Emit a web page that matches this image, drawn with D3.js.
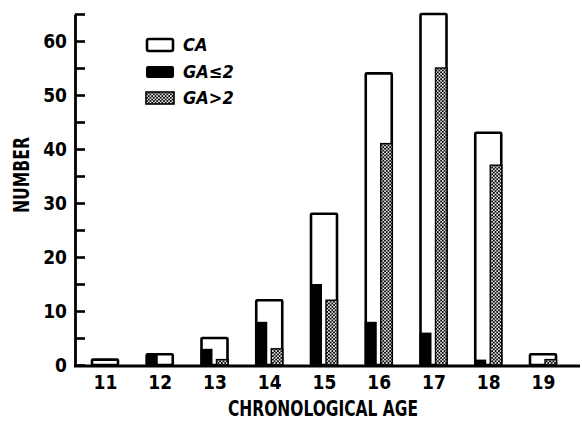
<!DOCTYPE html>
<html><head><meta charset="utf-8">
<script src="https://cdn.jsdelivr.net/npm/d3@7"></script>
<style>
body{margin:0;background:#fff;}
text{font-family:"Liberation Sans Narrow","DejaVu Sans Condensed",sans-serif;font-weight:bold;fill:#000;}
</style></head>
<body><svg id="c" width="582" height="422"></svg>
<script>
const ages = [11,12,13,14,15,16,17,18,19];
const caValues = [1,2,5,12,28,54,65,43,2];
const gaLowValues = [0,2,3,8,15,8,6,1,0];
const gaHighValues = [0,0,1,3,12,41,55,37,1];
const yTicks = [0,5,10,15,20,25,30,35,40,45,50,55,60,65];
const legendLabels = ["CA","GA\u22642","GA>2"];

const svg = d3.select("#c");
const defs = svg.append("defs");
const pat = defs.append("pattern").attr("id","dots").attr("patternUnits","userSpaceOnUse")
  .attr("width",3.4).attr("height",3.4);
pat.append("rect").attr("width",3.4).attr("height",3.4).attr("fill","#000");
pat.append("circle").attr("cx",0.85).attr("cy",0.85).attr("r",0.95).attr("fill","#fff");
pat.append("circle").attr("cx",2.55).attr("cy",2.55).attr("r",0.95).attr("fill","#fff");

const x = d3.scalePoint().domain(ages).range([105,543]);
const y = d3.scaleLinear().domain([0,65]).range([365,14]);

const g = svg.append("g");
const data = ages.map((a,i)=>({a,ca:caValues[i],lo:gaLowValues[i],hi:gaHighValues[i]}));

g.selectAll(".ca").data(data).enter().append("rect")
  .attr("x",d=>x(d.a)-13).attr("width",26)
  .attr("y",d=>y(d.ca)).attr("height",d=>y(0)-y(d.ca))
  .attr("fill","#fff").attr("stroke","#000").attr("stroke-width",2.6).attr("rx",1);
g.selectAll(".lo").data(data.filter(d=>d.lo>0)).enter().append("rect")
  .attr("x",d=>x(d.a)-14).attr("width",12)
  .attr("y",d=>y(d.lo)).attr("height",d=>y(0)-y(d.lo))
  .attr("fill","#000");
g.selectAll(".hi").data(data.filter(d=>d.hi>0)).enter().append("rect")
  .attr("x",d=>x(d.a)+2).attr("width",11.5)
  .attr("y",d=>y(d.hi)).attr("height",d=>y(0)-y(d.hi))
  .attr("fill","url(#dots)").attr("stroke","#000").attr("stroke-width",1.4);

const yAxis = d3.axisLeft(y).tickValues(yTicks).tickSizeInner(-10).tickSizeOuter(0).tickPadding(8)
  .tickFormat(d=>d%10===0?d:"");
const ya = svg.append("g").attr("transform","translate(75,0)").call(yAxis);
ya.select(".domain").attr("stroke","#000").attr("stroke-width",2.8);
ya.selectAll(".tick line").attr("stroke","#000").attr("stroke-width",2.6);
ya.selectAll(".tick text").style("font-size","19px").attr("dy","0.36em");

const xAxis = d3.axisBottom(x).tickSize(0).tickPadding(10);
const xa = svg.append("g").attr("transform","translate(0,366)").call(xAxis);
xa.select(".domain").remove();
svg.append("line").attr("x1",74).attr("x2",580).attr("y1",366).attr("y2",366)
  .attr("stroke","#000").attr("stroke-width",2.8);
xa.selectAll(".tick text").style("font-size","19px").attr("dy","0.71em");

svg.append("text").attr("x",323).attr("y",416).attr("text-anchor","middle")
  .attr("textLength",190).attr("lengthAdjust","spacingAndGlyphs")
  .style("font-size","21px").text("CHRONOLOGICAL AGE");
svg.append("text").attr("transform","translate(29,175) rotate(-90)").attr("text-anchor","middle")
  .attr("textLength",76).attr("lengthAdjust","spacingAndGlyphs")
  .style("font-size","21px").text("NUMBER");

const leg = svg.append("g");
const ly = [45,72,98];
leg.append("rect").attr("x",147).attr("y",ly[0]-6).attr("width",26).attr("height",12).attr("rx",2)
  .attr("fill","#fff").attr("stroke","#000").attr("stroke-width",2.6);
leg.append("rect").attr("x",146).attr("y",ly[1]-6).attr("width",28).attr("height",12).attr("rx",2)
  .attr("fill","#000");
leg.append("rect").attr("x",146).attr("y",ly[2]-6).attr("width",28).attr("height",12)
  .attr("fill","url(#dots)").attr("stroke","#000").attr("stroke-width",1.6);
leg.selectAll(".lt").data(legendLabels).enter().append("text")
  .attr("x",183).attr("y",(d,i)=>ly[i]).attr("dy","0.36em")
  .style("font-size","18px").style("font-style","italic").text(d=>d);
</script></body></html>
